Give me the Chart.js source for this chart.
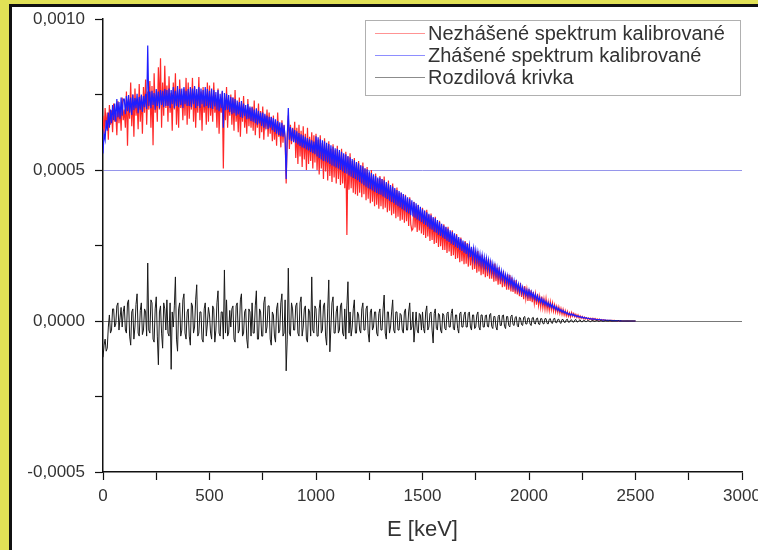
<!DOCTYPE html>
<html>
<head>
<meta charset="utf-8">
<script src="https://cdn.jsdelivr.net/npm/chart.js@4.4.1/dist/chart.umd.min.js"></script>
<style>
  html, body { margin: 0; padding: 0; overflow: hidden; }
  #ramik { position: relative; width: 758px; height: 550px; background: #e1e156; overflow: hidden; }
  #papier { position: absolute; left: 9px; top: 4px; width: 770px; height: 546px;
            border-left: 3px solid #111; border-top: 3px solid #111; background: #fff; }
  #graf { position: relative; width: 758px; height: 543px; }
</style>
</head>
<body>
<div id="ramik"><div id="papier"><div id="graf"><canvas id="c"></canvas></div></div></div>
<script>
// energie kanalov [keV]
const energie = [
  0,5,10,15,20,25,30,35,40,45,50,55,60,65,70,75,80,85,90,95,
  100,105,110,115,120,125,130,135,140,145,150,155,160,165,170,175,180,185,190,195,
  200,205,210,215,220,225,230,235,240,245,250,255,260,265,270,275,280,285,290,295,
  300,305,310,315,320,325,330,335,340,345,350,355,360,365,370,375,380,385,390,395,
  400,405,410,415,420,425,430,435,440,445,450,455,460,465,470,475,480,485,490,495,
  500,505,510,515,520,525,530,535,540,545,550,555,560,565,570,575,580,585,590,595,
  600,605,610,615,620,625,630,635,640,645,650,655,660,665,670,675,680,685,690,695,
  700,705,710,715,720,725,730,735,740,745,750,755,760,765,770,775,780,785,790,795,
  800,805,810,815,820,825,830,835,840,845,850,855,860,865,870,875,880,885,890,895,
  900,905,910,915,920,925,930,935,940,945,950,955,960,965,970,975,980,985,990,995,
  1000,1005,1010,1015,1020,1025,1030,1035,1040,1045,1050,1055,1060,1065,1070,1075,1080,1085,1090,1095,
  1100,1105,1110,1115,1120,1125,1130,1135,1140,1145,1150,1155,1160,1165,1170,1175,1180,1185,1190,1195,
  1200,1205,1210,1215,1220,1225,1230,1235,1240,1245,1250,1255,1260,1265,1270,1275,1280,1285,1290,1295,
  1300,1305,1310,1315,1320,1325,1330,1335,1340,1345,1350,1355,1360,1365,1370,1375,1380,1385,1390,1395,
  1400,1405,1410,1415,1420,1425,1430,1435,1440,1445,1450,1455,1460,1465,1470,1475,1480,1485,1490,1495,
  1500,1505,1510,1515,1520,1525,1530,1535,1540,1545,1550,1555,1560,1565,1570,1575,1580,1585,1590,1595,
  1600,1605,1610,1615,1620,1625,1630,1635,1640,1645,1650,1655,1660,1665,1670,1675,1680,1685,1690,1695,
  1700,1705,1710,1715,1720,1725,1730,1735,1740,1745,1750,1755,1760,1765,1770,1775,1780,1785,1790,1795,
  1800,1805,1810,1815,1820,1825,1830,1835,1840,1845,1850,1855,1860,1865,1870,1875,1880,1885,1890,1895,
  1900,1905,1910,1915,1920,1925,1930,1935,1940,1945,1950,1955,1960,1965,1970,1975,1980,1985,1990,1995,
  2000,2005,2010,2015,2020,2025,2030,2035,2040,2045,2050,2055,2060,2065,2070,2075,2080,2085,2090,2095,
  2100,2105,2110,2115,2120,2125,2130,2135,2140,2145,2150,2155,2160,2165,2170,2175,2180,2185,2190,2195,
  2200,2205,2210,2215,2220,2225,2230,2235,2240,2245,2250,2255,2260,2265,2270,2275,2280,2285,2290,2295,
  2300,2305,2310,2315,2320,2325,2330,2335,2340,2345,2350,2355,2360,2365,2370,2375,2380,2385,2390,2395,
  2400,2405,2410,2415,2420,2425,2430,2435,2440,2445,2450,2455,2460,2465,2470,2475,2480,2485,2490,2495,
  2500
];

// hodnoty v jednotkach 1e-6 (odcitane z obrazku)
const nezhasene = [
  680,620,705,640,690,600,715,650,698,625,720,660,690,615,728,655,705,630,740,665,
  700,640,760,580,735,670,790,645,750,610,770,680,725,635,785,660,745,620,775,690,
  800,650,760,700,795,640,778,582,820,690,750,660,840,700,870,640,790,680,845,705,
  780,660,810,690,755,630,790,700,820,650,765,640,800,705,750,665,770,680,805,650,
  790,670,760,700,805,660,775,640,750,690,808,665,760,630,775,690,745,650,790,660,
  780,680,745,660,790,690,730,640,770,620,735,690,760,505,740,665,775,640,730,680,
  750,650,740,630,765,660,715,625,740,610,720,660,745,640,700,620,735,645,705,640,
  710,630,730,615,690,640,720,605,695,625,710,600,680,635,700,610,690,620,675,595,
  680,600,660,580,690,610,640,575,665,590,650,600,455,610,680,570,650,585,640,595,
  660,540,640,520,650,545,630,510,645,535,620,500,640,520,610,530,625,505,615,525,
  620,500,600,485,615,505,590,470,605,495,580,465,595,480,570,460,585,475,565,455,
  580,470,560,450,570,455,550,440,560,285,545,435,555,440,530,425,540,420,525,415,
  530,425,515,410,525,420,505,400,510,405,490,390,500,395,480,380,488,385,470,372,
  480,380,470,370,478,375,455,360,465,365,445,350,455,355,435,340,442,345,425,332,
  425,335,420,325,418,330,405,315,410,320,300,305,395,310,380,295,385,300,368,290,
  375,285,365,275,368,280,352,265,356,268,340,255,345,258,328,245,332,248,315,235,
  320,235,310,225,312,230,295,215,300,218,285,205,288,208,272,195,276,198,260,188,
  265,190,258,180,255,184,240,170,244,172,228,160,232,164,216,152,220,155,205,145,
  212,148,205,140,200,140,188,130,190,132,176,120,178,122,162,112,166,114,152,104,
  155,104,152,98,145,96,135,90,136,88,124,82,126,80,114,72,116,74,104,66,
  106,66,102,62,96,58,89,54,90,52,80,46,81,44,72,40,73,38,63,35,
  63,37,59,33,53,30,48,28,46,25,41,22,38,20,34,17,31,16,27,14,
  28,16,25,14,22,12,20,10,17,9,15,8,13,7,11,6,10,5,9,4,
  9,4,8,3,7,3,6,2,5,2,4,2,3,1,3,1,2,1,2,1,
  2,1,1,0,1,0,1,0,0,0,0,0,0,0,0,0,0,0,0,0,
  0
];

const zhasene = [
  555,620,600,665,630,690,640,700,655,715,665,720,660,735,675,725,670,740,680,735,
  735,685,745,695,748,690,740,682,750,698,738,705,752,688,742,700,750,692,745,708,
  752,702,912,712,760,705,762,715,755,700,768,712,760,705,765,715,762,708,768,712,
  765,712,770,705,765,718,775,705,762,712,778,708,768,715,770,705,775,718,762,712,
  768,712,775,708,770,718,778,705,768,712,775,705,770,718,765,708,775,712,768,705,
  762,705,770,702,765,710,758,700,765,695,752,705,762,640,755,698,752,700,748,692,
  742,685,740,688,735,680,730,684,725,676,728,672,720,678,715,668,718,670,710,662,
  708,660,700,655,704,650,696,654,690,646,690,640,686,648,680,636,676,640,676,632,
  672,626,668,620,662,616,658,612,656,610,648,606,470,610,705,600,642,596,638,592,
  632,590,628,585,622,580,618,575,615,572,610,568,606,565,602,560,598,556,594,552,
  612,545,608,540,602,535,598,530,595,528,590,525,586,520,582,515,578,512,572,508,
  570,505,566,500,560,495,555,490,552,488,546,482,542,478,536,474,532,470,526,466,
  522,460,516,455,512,450,506,445,502,440,496,436,490,432,486,428,480,424,475,420,
  475,418,470,412,466,408,460,404,455,398,450,394,445,390,440,385,434,380,430,376,
  425,370,420,366,415,360,410,356,405,350,400,346,394,342,390,336,384,332,378,328,
  370,322,366,318,360,312,355,306,350,302,344,296,340,292,334,286,328,282,322,276,
  316,272,312,266,306,262,300,256,295,252,290,246,284,242,278,236,272,232,266,226,
  262,222,256,218,250,212,246,208,240,202,234,198,228,194,222,188,218,184,212,178,
  208,174,202,168,196,164,190,158,184,152,178,148,172,142,166,138,160,132,154,128,
  150,122,145,118,140,112,134,108,128,104,122,98,118,94,112,90,106,86,102,82,
  102,82,97,78,92,74,88,70,83,66,78,62,74,58,70,55,65,51,61,48,
  58,45,54,42,50,38,46,35,42,32,38,29,35,27,31,24,28,21,25,19,
  24,18,22,16,19,14,17,13,15,11,14,10,12,9,11,8,9,7,8,6,
  7,6,6,5,5,4,5,4,4,3,3,3,3,2,2,2,2,2,1,1,
  1,1,1,1,1,0,1,0,0,0,0,0,0,0,0,0,0,0,0,0,
  0
];

const rozdiel = [
  -120,-80,-60,-100,-90,-20,20,-40,-30,40,40,-20,-10,50,60,-30,10,45,-20,30,
  50,-30,-40,60,70,-50,-80,30,40,-60,-20,55,90,-40,-50,35,60,-45,-30,40,
  30,-50,192,-30,-40,70,60,-60,-70,40,80,-50,-145,30,50,-40,-90,60,40,-30,
  70,-40,-50,60,-160,30,-20,50,146,-60,-100,40,60,-50,-30,70,90,-40,-60,30,
  40,-50,-80,60,50,-40,-20,70,120,-50,-40,30,30,-60,-70,40,60,-50,-10,45,
  20,-40,-60,50,40,-70,-30,60,100,-40,-50,30,30,-60,169,-40,70,-50,-40,35,
  -20,40,50,-60,-70,50,60,-40,-30,70,90,-50,-40,30,40,-60,-90,40,30,-50,
  60,-40,-40,50,100,-60,-60,40,30,-50,-50,60,80,-40,-20,50,50,-60,-80,30,
  20,-50,-70,40,60,-40,-30,60,90,-50,-40,70,-165,-60,175,-40,-50,60,40,-30,
  -30,50,60,-40,-50,60,80,-50,-20,40,50,-60,-70,40,30,-50,146,-30,-40,50,
  40,-50,-50,40,70,-40,-30,50,60,-50,-80,40,136,-102,-20,60,80,-40,-40,30,
  50,-40,-30,50,60,-40,-50,40,-60,50,130,-40,30,-50,-20,40,70,-40,-40,30,
  20,-30,-40,40,60,-30,-30,40,50,-40,-70,30,40,-30,-20,30,30,-40,-50,25,
  40,-30,-30,40,86,-40,-60,30,30,-40,-20,30,70,-30,-40,30,30,-30,-30,25,
  20,-30,-40,30,40,-30,-30,30,60,-30,-20,30,-70,-20,30,-30,-40,25,20,-30,
  30,-25,-40,30,50,-30,-20,25,30,-30,-73,25,40,-25,-30,25,20,-30,-40,25,
  20,-25,-30,25,30,-20,-20,25,40,-25,-30,20,20,-25,-40,25,30,-20,-20,20,
  30,-20,-20,25,30,-20,-30,20,20,-25,-20,20,30,-20,-30,20,20,-20,-20,18,
  20,-18,-20,20,25,-18,-25,15,15,-20,-30,15,20,-15,-15,18,20,-18,-25,15,
  15,-15,-20,15,20,-12,-15,12,15,-15,-20,12,10,-12,-15,12,15,-10,-10,10,
  10,-10,-15,10,12,-8,-10,8,10,-10,-12,8,8,-8,-10,8,8,-8,-10,6,
  8,-6,-8,6,10,-5,-6,5,6,-5,-8,5,5,-4,-5,4,6,-4,-4,3,
  4,-3,-4,3,5,-3,-3,2,4,-2,-3,2,3,-2,-2,2,2,-2,-2,1,
  2,-1,-1,1,2,-1,-1,1,1,-1,-1,0,1,0,0,0,1,0,0,0,
  0,0,0,0,1,0,0,0,0,0,0,0,0,0,0,0,0,0,0,0,
  0
];

const popisky = ['Nezhášené spektrum kalibrované', 'Zhášené spektrum kalibrované', 'Rozdilová krivka'];
const farby = ['rgb(255,40,40)', 'rgb(30,30,255)', 'rgb(25,25,25)'];

function body(hodnoty) {
  return energie.map((e, i) => ({ x: e, y: hodnoty[i] }));
}

// format 1e-6 jednotiek ako 0,0005
function formatY(v) {
  return (v / 1e6).toFixed(4).replace('.', ',');
}

// vlastna legenda v ramceku vpravo hore
const legendaRamcek = {
  id: 'legendaRamcek',
  afterDraw(chart) {
    const ctx = chart.ctx;
    ctx.save();
    ctx.strokeStyle = '#b0b0b0';
    ctx.lineWidth = 1;
    ctx.strokeRect(353.5, 13.5, 375, 75);
    ctx.font = '20px "Liberation Sans", Arial, sans-serif';
    ctx.textBaseline = 'middle';
    ctx.fillStyle = '#333';
    chart.data.datasets.forEach((ds, i) => {
      const y = 26 + i * 22;
      ctx.strokeStyle = ds.borderColor;
      ctx.lineWidth = 1;
      ctx.globalAlpha = 0.5;
      ctx.beginPath();
      ctx.moveTo(363, y + 0.5);
      ctx.lineTo(413, y + 0.5);
      ctx.stroke();
      ctx.globalAlpha = 1;
      ctx.fillText(ds.label, 416, y + 1);
    });
    ctx.restore();
  }
};

const pismo = { family: '"Liberation Sans", Arial, sans-serif', size: 17 };

new Chart(document.getElementById('c'), {
  type: 'line',
  data: {
    datasets: [
      { label: popisky[0], data: body(nezhasene), borderColor: farby[0], borderWidth: 1.2, order: 3 },
      { label: popisky[1], data: body(zhasene), borderColor: farby[1], borderWidth: 1.2, order: 2 },
      { label: popisky[2], data: body(rozdiel), borderColor: farby[2], borderWidth: 1, order: 1 }
    ]
  },
  options: {
    responsive: true,
    maintainAspectRatio: false,
    animation: false,
    events: [],
    layout: { padding: { top: 12, right: 28, left: 0, bottom: 0 } },
    elements: {
      line: { tension: 0 },
      point: { radius: 0 }
    },
    plugins: {
      legend: { display: false },
      tooltip: { enabled: false }
    },
    scales: {
      x: {
        type: 'linear',
        min: 0, max: 3000,
        afterFit(scale) { scale.height = 78; },
        border: { display: true, color: '#111', width: 1.5 },
        grid: { drawOnChartArea: false, drawTicks: true, tickLength: 8, tickColor: '#111', tickWidth: 1.2 },
        ticks: {
          stepSize: 250, autoSkip: false, maxRotation: 0, padding: 6,
          color: '#333', font: pismo,
          callback: v => (v % 500 === 0 ? String(v) : '')
        },
        title: {
          display: true, text: 'E [keV]', color: '#333',
          font: { family: pismo.family, size: 22 },
          padding: { top: 0, bottom: 7 }
        }
      },
      y: {
        min: -500, max: 1000,
        afterFit(scale) {
          scale.width = 91;
          scale.paddingTop = 0;
          scale.paddingBottom = 0;
        },
        border: { display: true, color: '#111', width: 1.5 },
        grid: {
          drawOnChartArea: true, drawTicks: true, tickLength: 8, tickColor: '#111', tickWidth: 1.2,
          color: c => (c.tick && c.tick.value === 500 ? 'rgb(150,150,235)' :
                       c.tick && c.tick.value === 0 ? 'rgb(120,120,120)' : 'rgba(0,0,0,0)')
        },
        ticks: {
          stepSize: 250, autoSkip: false, padding: 10,
          color: '#333', font: pismo,
          callback: v => (v % 500 === 0 ? formatY(v) : '')
        }
      }
    }
  },
  plugins: [legendaRamcek]
});
</script>
</body>
</html>
